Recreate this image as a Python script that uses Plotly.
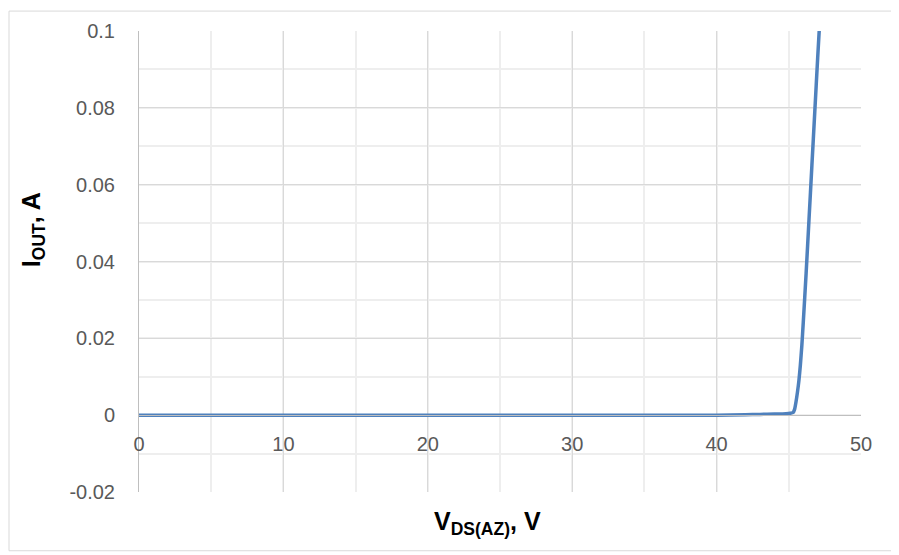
import plotly.graph_objects as go

# Data
v_ds = [0, 5, 10, 15, 20, 25, 30, 35, 40, 42, 43, 44, 44.8, 45.1, 45.3,
        45.4, 45.5, 45.6, 45.7, 45.8, 45.9, 46.0, 46.2, 46.4, 46.6, 46.8, 47.0, 47.12]
i_out = [0, 0, 0, 0, 0, 0, 0, 0, 0, 0.0001, 0.0002, 0.0003, 0.0004, 0.0005, 0.0007,
         0.0015, 0.0035, 0.006, 0.009, 0.013, 0.018, 0.024, 0.037, 0.051, 0.065, 0.079, 0.093, 0.101]

x_ticks = [0, 10, 20, 30, 40, 50]
y_ticks = [-0.02, 0, 0.02, 0.04, 0.06, 0.08, 0.1]
y_labels = ["-0.02", "0", "0.02", "0.04", "0.06", "0.08", "0.1"]

fig = go.Figure()
fig.add_trace(go.Scatter(x=v_ds, y=i_out, mode="lines",
                         line=dict(color="#4F81BD", width=3.5, shape="spline", smoothing=0.6),
                         showlegend=False, cliponaxis=True))

tickfont = dict(family="Liberation Sans, Arial, sans-serif", size=20, color="#595959")
titlefont = dict(family="Liberation Sans, Arial, sans-serif", size=25, color="black")

# page has an 8px body margin; compensate so the plot area lands at 139..861 x 29..492
W, H = 891, 547
L, T, R, B = 131, 21, 38, 63
PW, PH = W - L - R, H - T - B

fig.update_layout(
    width=W, height=H,
    margin=dict(l=L, r=R, t=T, b=B),
    paper_bgcolor="white", plot_bgcolor="white",
    xaxis=dict(range=[0, 50], tickvals=x_ticks, ticktext=[str(t) for t in x_ticks],
               showgrid=True, gridcolor="#d9d9d9", gridwidth=1,
               minor=dict(dtick=5, showgrid=True, gridcolor="#eeeeee", gridwidth=2),
               zeroline=False, showline=True, linecolor="#bfbfbf", linewidth=1,
               anchor="free", position=1/6, ticks="", ticklabelstandoff=11,
               tickfont=tickfont),
    yaxis=dict(range=[-0.02, 0.1], tickvals=y_ticks, ticktext=y_labels,
               showgrid=True, gridcolor="#d9d9d9", gridwidth=1,
               minor=dict(dtick=0.01, showgrid=True, gridcolor="#eeeeee", gridwidth=1.5),
               zeroline=False, showline=True, linecolor="#bfbfbf", linewidth=1,
               ticks="", ticklabelstandoff=19, tickfont=tickfont),
    shapes=[dict(type="rect", xref="paper", yref="paper",
                 x0=(9 - 139) / PW, x1=(896 - 139) / PW,
                 y0=(492 - 551) / PH, y1=(492 - 9) / PH,
                 line=dict(color="#d9d9d9", width=1), layer="below")],
    annotations=[
        dict(text="<b>V<sub>DS(AZ)</sub>, V</b>", xref="paper", yref="paper",
             x=(487 - 139) / PW, y=(492 - 523) / PH, showarrow=False,
             xanchor="center", yanchor="middle", font=titlefont),
        dict(text="<b>I<sub>OUT</sub>, A</b>", xref="paper", yref="paper",
             x=(33 - 139) / PW, y=(492 - 228) / PH, showarrow=False, textangle=-90,
             xanchor="center", yanchor="middle", font=titlefont),
    ],
)

fig.write_html("out.html")
